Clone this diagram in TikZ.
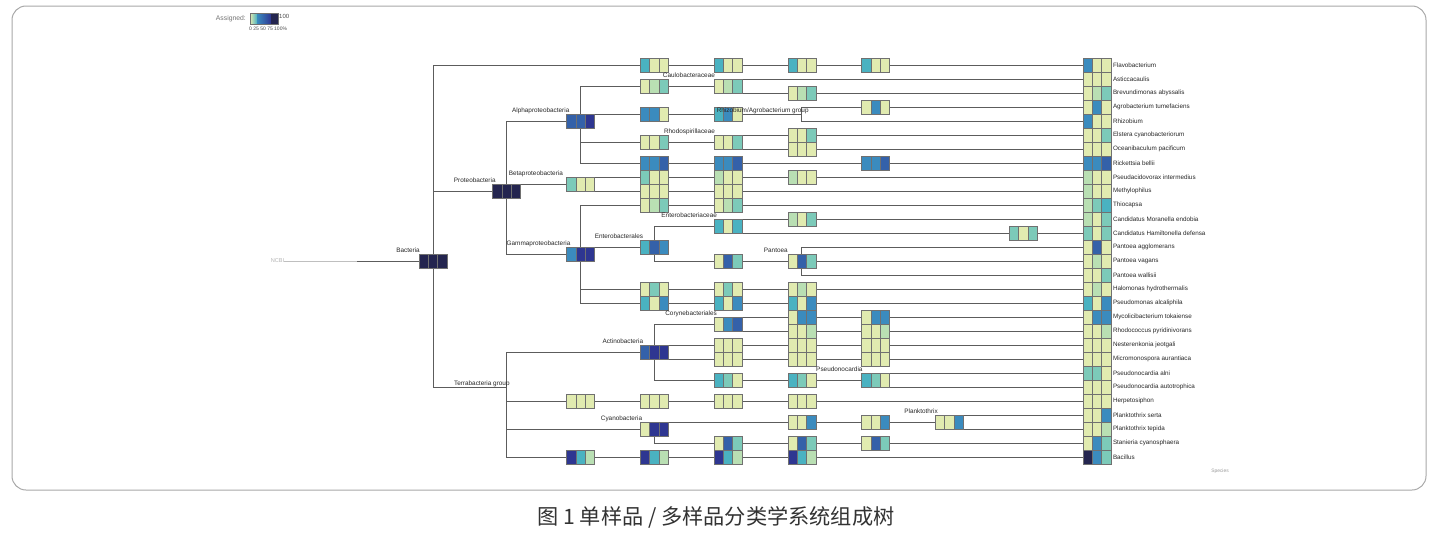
\documentclass[tikz,border=0pt]{standalone}
\usepackage{fontspec}
\setmainfont{Liberation Sans}
\newfontfamily\cjk{Noto Sans CJK SC}
\usepackage{tikz}
\usetikzlibrary{positioning, fit, backgrounds, calc}
\definecolor{cY}{HTML}{E1EBB0}
\definecolor{cLG}{HTML}{B9DFB3}
\definecolor{cTG}{HTML}{7CCAB9}
\definecolor{cT}{HTML}{4AB2C1}
\definecolor{cB}{HTML}{3B8BBE}
\definecolor{cMB}{HTML}{3461A9}
\definecolor{cDB}{HTML}{2E3691}
\definecolor{cN}{HTML}{24254F}
\definecolor{cellline}{HTML}{707070}
\definecolor{edgegray}{HTML}{5C5C5C}
\definecolor{framegray}{HTML}{A8A8A8}
\tikzset{
  cell/.style={draw=cellline, line width=0.7pt, minimum width=9.33pt, minimum height=14pt, inner sep=0pt, outer sep=0pt},
  grp/.style={inner sep=0pt, outer sep=0pt},
  edge/.style={draw=edgegray, line width=0.9pt},
  tlab/.style={anchor=base east, yshift=1.7pt, inner sep=0pt, font=\fontsize{6.4}{7}\selectfont, text=black!85},
  sp/.style={inner sep=0pt, font=\fontsize{6.3}{7}\selectfont, text=black!85},
}
\newcommand{\taxbox}[6]{%
  \node[cell, fill=#4] (#1-a) at ({419+73.78*#2+4.67}, {65+14*#3}) {};
  \node[cell, fill=#5, right=0pt of #1-a] (#1-b) {};
  \node[cell, fill=#6, right=0pt of #1-b] (#1-c) {};
  \node[grp, fit=(#1-a)(#1-c)] (#1) {};
}

\begin{document}
\begin{tikzpicture}[x=1pt, y=-1pt]
  \useasboundingbox (0,0) rectangle (1441,538);
  \draw[framegray, line width=1pt, rounded corners=14pt] (12,6) rectangle (1426,490);

  % legend
  \node[anchor=east, inner sep=0pt, font=\fontsize{6.8}{7}\selectfont, text=black!55] (assigned) at (246,19) {Assigned:};
  \shade[left color=cY, right color=cT] (250,13) rectangle (257,24.5);
  \shade[left color=cB, right color=cMB] (257,13) rectangle (264,24.5);
  \shade[left color=cMB, right color=cDB] (264,13) rectangle (271,24.5);
  \fill[cN] (271,13) rectangle (278,24.5);
  \draw[cellline, line width=0.5pt] (250,13) rectangle (278,24.5);
  \node[anchor=west, inner sep=0pt, font=\fontsize{6}{7}\selectfont, text=black!70] (hundred) at (279,16) {100};
  \node[anchor=west, inner sep=0pt, font=\fontsize{5}{6}\selectfont, text=black!70] (scale) at (249,28.5) {0 25 50 75 100\%};

  % inner nodes
  \taxbox{bact}{0}{14}{cN}{cN}{cN}
  \taxbox{prot}{1}{9}{cN}{cN}{cN}
  \coordinate (terra) at ({419+73.78+14}, {65+14*23});
  \taxbox{alpha}{2}{4}{cMB}{cMB}{cDB}
  \taxbox{beta}{2}{8.5}{cTG}{cY}{cY}
  \taxbox{gamma}{2}{13.5}{cB}{cDB}{cDB}
  \taxbox{cau3}{3}{1.5}{cY}{cLG}{cTG}
  \taxbox{cau}{4}{1.5}{cY}{cLG}{cTG}
  \taxbox{rhag3}{3}{3.5}{cB}{cB}{cY}
  \taxbox{rhag4}{4}{3.5}{cT}{cB}{cY}
  \coordinate (rhag) at ({419+73.78*5+14}, {65+14*3.5});
  \taxbox{rhod3}{3}{5.5}{cY}{cY}{cTG}
  \taxbox{rhod}{4}{5.5}{cY}{cY}{cTG}
  \taxbox{entb}{3}{13}{cT}{cMB}{cB}
  \taxbox{entc}{4}{11.5}{cT}{cY}{cT}
  \taxbox{pant4}{4}{14}{cY}{cMB}{cTG}
  \taxbox{pant}{5}{14}{cY}{cMB}{cTG}
  \taxbox{acti}{3}{20.5}{cMB}{cDB}{cDB}
  \taxbox{cory}{4}{18.5}{cY}{cB}{cMB}
  \taxbox{pnoc4}{4}{22.5}{cT}{cTG}{cY}
  \taxbox{pnoc5}{5}{22.5}{cT}{cTG}{cY}
  \taxbox{pnoc}{6}{22.5}{cT}{cTG}{cY}
  \taxbox{cyan}{3}{26}{cY}{cDB}{cDB}
  \taxbox{plank5}{5}{25.5}{cY}{cY}{cB}
  \taxbox{plank6}{6}{25.5}{cY}{cY}{cB}
  \taxbox{plank}{7}{25.5}{cY}{cY}{cB}

  % leaf chains
  \taxbox{flav3}{3}{0}{cT}{cY}{cY}
  \taxbox{flav4}{4}{0}{cT}{cY}{cY}
  \taxbox{flav5}{5}{0}{cT}{cY}{cY}
  \taxbox{flav6}{6}{0}{cT}{cY}{cY}
  \taxbox{flav}{9}{0}{cB}{cY}{cY}
  \taxbox{astic}{9}{1}{cY}{cY}{cY}
  \taxbox{brev5}{5}{2}{cY}{cLG}{cTG}
  \taxbox{brev}{9}{2}{cY}{cLG}{cTG}
  \taxbox{agro6}{6}{3}{cY}{cB}{cY}
  \taxbox{agro}{9}{3}{cY}{cB}{cY}
  \taxbox{rhiz}{9}{4}{cB}{cY}{cY}
  \taxbox{elst5}{5}{5}{cY}{cY}{cTG}
  \taxbox{elst}{9}{5}{cY}{cY}{cTG}
  \taxbox{ocea5}{5}{6}{cY}{cY}{cY}
  \taxbox{ocea}{9}{6}{cY}{cY}{cY}
  \taxbox{rick3}{3}{7}{cB}{cB}{cMB}
  \taxbox{rick4}{4}{7}{cB}{cB}{cMB}
  \taxbox{rick6}{6}{7}{cB}{cB}{cMB}
  \taxbox{rick}{9}{7}{cB}{cB}{cMB}
  \taxbox{psac3}{3}{8}{cTG}{cY}{cY}
  \taxbox{psac4}{4}{8}{cLG}{cY}{cY}
  \taxbox{psac5}{5}{8}{cLG}{cY}{cY}
  \taxbox{psac}{9}{8}{cLG}{cY}{cY}
  \taxbox{meth3}{3}{9}{cY}{cY}{cY}
  \taxbox{meth4}{4}{9}{cY}{cY}{cY}
  \taxbox{meth}{9}{9}{cLG}{cY}{cY}
  \taxbox{thio3}{3}{10}{cY}{cLG}{cTG}
  \taxbox{thio4}{4}{10}{cY}{cLG}{cTG}
  \taxbox{thio}{9}{10}{cLG}{cTG}{cT}
  \taxbox{mora5}{5}{11}{cLG}{cY}{cTG}
  \taxbox{mora}{9}{11}{cLG}{cY}{cTG}
  \taxbox{hami8}{8}{12}{cTG}{cY}{cTG}
  \taxbox{hami}{9}{12}{cTG}{cY}{cTG}
  \taxbox{pagg}{9}{13}{cY}{cMB}{cY}
  \taxbox{pvag}{9}{14}{cY}{cLG}{cY}
  \taxbox{pwal}{9}{15}{cY}{cY}{cTG}
  \taxbox{halo3}{3}{16}{cY}{cTG}{cY}
  \taxbox{halo4}{4}{16}{cY}{cTG}{cY}
  \taxbox{halo5}{5}{16}{cY}{cLG}{cY}
  \taxbox{halo}{9}{16}{cY}{cLG}{cY}
  \taxbox{psal3}{3}{17}{cT}{cY}{cB}
  \taxbox{psal4}{4}{17}{cT}{cY}{cB}
  \taxbox{psal5}{5}{17}{cT}{cY}{cB}
  \taxbox{psal}{9}{17}{cT}{cY}{cB}
  \taxbox{myco5}{5}{18}{cY}{cB}{cB}
  \taxbox{myco6}{6}{18}{cY}{cB}{cB}
  \taxbox{myco}{9}{18}{cY}{cB}{cB}
  \taxbox{rhoc5}{5}{19}{cY}{cY}{cLG}
  \taxbox{rhoc6}{6}{19}{cY}{cY}{cLG}
  \taxbox{rhoc}{9}{19}{cY}{cY}{cLG}
  \taxbox{nest4}{4}{20}{cY}{cY}{cY}
  \taxbox{nest5}{5}{20}{cY}{cY}{cY}
  \taxbox{nest6}{6}{20}{cY}{cY}{cY}
  \taxbox{nest}{9}{20}{cY}{cY}{cY}
  \taxbox{micr4}{4}{21}{cY}{cY}{cY}
  \taxbox{micr5}{5}{21}{cY}{cY}{cY}
  \taxbox{micr6}{6}{21}{cY}{cY}{cY}
  \taxbox{micr}{9}{21}{cY}{cY}{cY}
  \taxbox{palni}{9}{22}{cTG}{cTG}{cY}
  \taxbox{pauto}{9}{23}{cY}{cY}{cY}
  \taxbox{herp2}{2}{24}{cY}{cY}{cY}
  \taxbox{herp3}{3}{24}{cY}{cY}{cY}
  \taxbox{herp4}{4}{24}{cY}{cY}{cY}
  \taxbox{herp5}{5}{24}{cY}{cY}{cY}
  \taxbox{herp}{9}{24}{cY}{cY}{cY}
  \taxbox{pser}{9}{25}{cY}{cY}{cB}
  \taxbox{ptep}{9}{26}{cY}{cY}{cLG}
  \taxbox{stan4}{4}{27}{cY}{cMB}{cTG}
  \taxbox{stan5}{5}{27}{cY}{cMB}{cTG}
  \taxbox{stan6}{6}{27}{cY}{cMB}{cTG}
  \taxbox{stan}{9}{27}{cY}{cB}{cTG}
  \taxbox{baci2}{2}{28}{cDB}{cT}{cLG}
  \taxbox{baci3}{3}{28}{cDB}{cT}{cLG}
  \taxbox{baci4}{4}{28}{cDB}{cT}{cLG}
  \taxbox{baci5}{5}{28}{cDB}{cT}{cLG}
  \taxbox{baci}{9}{28}{cN}{cB}{cTG}

  % root
  \node[inner sep=0pt, font=\fontsize{5.6}{6}\selectfont, text=black!30] (ncbi) at (277.5,261) {NCBI};
  \coordinate (root) at (357,261);

  \begin{scope}[on background layer]
    \draw[black!25, line width=0.8pt] (ncbi.east) -- (root);
    \draw[edge] (root) -- (bact.west);
    \foreach \pa/\ch in {bact/flav, bact/prot, bact/terra, prot/alpha, prot/beta, prot/gamma,
      alpha/cau, alpha/rhag, alpha/rhod, alpha/rick, cau/astic, cau/brev, rhag/agro, rhag/rhiz,
      rhod/elst, rhod/ocea, beta/psac, beta/meth, gamma/thio, gamma/entb, gamma/halo, gamma/psal,
      entb/entc, entb/pant, entc/mora, entc/hami, pant/pagg, pant/pvag, pant/pwal,
      terra/acti, terra/herp, terra/cyan, terra/baci, acti/cory, acti/nest, acti/micr, acti/pnoc,
      cory/myco, cory/rhoc, pnoc/palni, pnoc/pauto, cyan/plank, cyan/stan, plank/pser, plank/ptep}
      \draw[edge] (\pa.center) |- (\ch.west);
  \end{scope}

  % clade labels
  \node[tlab] (lbact) at ([xshift=1pt]bact.north west) {Bacteria};
  \node[tlab] (lprot) at ([xshift=3pt]prot.north west) {Proteobacteria};
  \node[tlab] (lalpha) at ([xshift=3pt]alpha.north west) {Alphaproteobacteria};
  \node[tlab] (lbeta) at ([xshift=-3.5pt]beta.north west) {Betaproteobacteria};
  \node[tlab] (lgamma) at ([xshift=4pt]gamma.north west) {Gammaproteobacteria};
  \node[tlab] (lcau) at ([xshift=1pt]cau.north west) {Caulobacteraceae};
  \node[tlab] (lrhod) at ([xshift=1pt]rhod.north west) {Rhodospirillaceae};
  \node[tlab] (lentb) at ([xshift=3pt]entb.north west) {Enterobacterales};
  \node[tlab] (lentc) at ([xshift=3pt]entc.north west) {Enterobacteriaceae};
  \node[tlab] (lpant) at (pant.north west) {Pantoea};
  \node[tlab] (lcory) at ([xshift=3pt]cory.north west) {Corynebacteriales};
  \node[tlab] (lacti) at ([xshift=3pt]acti.north west) {Actinobacteria};
  \node[tlab] (lpnoc) at ([xshift=1pt]pnoc.north west) {Pseudonocardia};
  \node[tlab] (lcyan) at ([xshift=2pt]cyan.north west) {Cyanobacteria};
  \node[tlab] (lplank) at ([xshift=2.5pt]plank.north west) {Planktothrix};
  \node[tlab, anchor=base west] (lrhag) at ([xshift=2.5pt, yshift=-7pt]rhag4.north west) {Rhizobium/Agrobacterium group};
  \node[tlab] (lterra) at ([xshift=3pt]terra) {Terrabacteria group};

  % species names
  \foreach \n/\t in {flav/Flavobacterium, astic/Asticcacaulis, brev/Brevundimonas abyssalis,
    agro/Agrobacterium tumefaciens, rhiz/Rhizobium, elst/Elstera cyanobacteriorum,
    ocea/Oceanibaculum pacificum, rick/Rickettsia bellii, psac/Pseudacidovorax intermedius,
    meth/Methylophilus, thio/Thiocapsa, mora/Candidatus Moranella endobia,
    hami/Candidatus Hamiltonella defensa, pagg/Pantoea agglomerans, pvag/Pantoea vagans,
    pwal/Pantoea wallisii, halo/Halomonas hydrothermalis, psal/Pseudomonas alcaliphila,
    myco/Mycolicibacterium tokaiense, rhoc/Rhodococcus pyridinivorans, nest/Nesterenkonia jeotgali,
    micr/Micromonospora aurantiaca, palni/Pseudonocardia alni, pauto/Pseudonocardia autotrophica,
    herp/Herpetosiphon, pser/Planktothrix serta, ptep/Planktothrix tepida,
    stan/Stanieria cyanosphaera, baci/Bacillus}
    \node[sp, right=1.8pt of \n] (t\n) {\t};

  \node[inner sep=0pt, font=\fontsize{4.9}{6}\selectfont, text=black!40] (species) at (1220,471) {Species};

  % caption
  \node[inner sep=0pt, font=\cjk\fontsize{21.2}{24}\selectfont, text=black!80] (cap) at (716,517) {图 1 单样品 / 多样品分类学系统组成树};
\end{tikzpicture}
\end{document}
